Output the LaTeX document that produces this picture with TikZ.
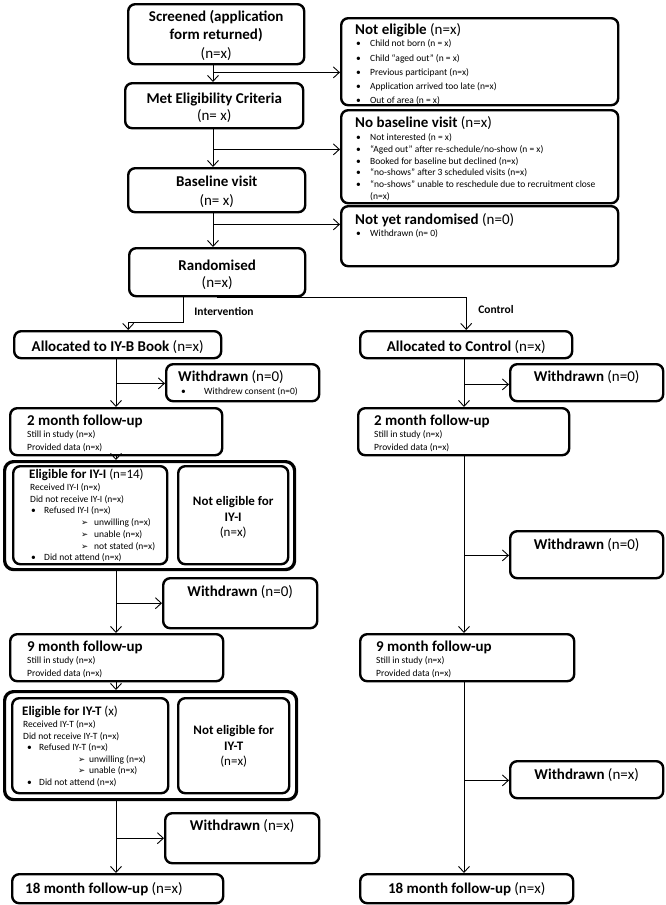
\documentclass[tikz,border=0pt]{standalone}
\usepackage{fontspec}
\setmainfont{Carlito}
\newfontfamily\dingfont{DejaVu Sans}
\usetikzlibrary{arrows.meta,calc}

\newcommand{\boxbody}[3]{\begin{minipage}[c][#2pt][t]{#1pt}#3\end{minipage}}
\newcommand{\ttlfont}{\fontsize{15}{18}\selectfont}
\newcommand{\midfont}{\fontsize{13}{16}\selectfont}
\newcommand{\dotitem}[2]{\hspace*{#1pt}\makebox[#2pt][l]{•}}
\newcommand{\arritem}[2]{\hspace*{#1pt}\makebox[#2pt][l]{\dingfont\fontsize{8.5}{9}\selectfont ➢}}

\begin{document}
\begin{tikzpicture}[x=1pt,y=-1pt,
  box/.style={draw,line width=2.4pt,rounded corners=7pt,inner sep=0pt,anchor=north west},
  outer/.style={draw,line width=3.2pt,rounded corners=9pt,inner sep=0pt,anchor=north west},
  arr/.style={line width=0.9pt,-{Straight Barb[length=6pt,width=11pt]}},
  lbl/.style={inner sep=0pt,font=\fontsize{11.5}{13}\selectfont\bfseries}]

\useasboundingbox (0,0) rectangle (666,905);

% screening
\node[box] (scr) at (127,3) {\boxbody{176}{60}{\centering\fontsize{15}{18.5}\selectfont
  \rule{0pt}{17pt}\textbf{Screened (application}\\ \textbf{form returned)}\\ (n=x)}};
\node[box] (met) at (124,82) {\boxbody{178}{45}{\centering\fontsize{15}{17}\selectfont
  \rule{0pt}{20pt}\textbf{Met Eligibility Criteria}\\ (n= x)}};
\node[box] (base) at (127,167) {\boxbody{177}{44}{\centering\fontsize{15}{19}\selectfont
  \rule{0pt}{18pt}\textbf{Baseline visit}\\ (n= x)}};
\node[box] (rand) at (128,247) {\boxbody{176}{48}{\centering\fontsize{15}{17}\selectfont
  \rule{0pt}{22pt}\textbf{Randomised}\\ (n=x)}};

\node[box] (notel) at (340,17) {\boxbody{277}{87}{\raggedright\fontsize{9.5}{14.3}\selectfont
  \hspace*{14pt}\rule{0pt}{16pt}{\ttlfont\textbf{Not eligible} (n=x)}\\[-1.8pt]
  \dotitem{15}{14}Child not born (n = x)\\
  \dotitem{15}{14}Child “aged out” (n = x)\\
  \dotitem{15}{14}Previous participant (n=x)\\
  \dotitem{15}{14}Application arrived too late (n=x)\\
  \dotitem{15}{14}Out of area (n = x)}};
\node[box] (nobase) at (340,109) {\boxbody{277}{93}{\raggedright\fontsize{9.5}{11.7}\selectfont
  \hspace*{14pt}\rule{0pt}{17pt}{\ttlfont\textbf{No baseline visit} (n=x)}\\[1.8pt]
  \dotitem{15}{14}Not interested (n = x)\\
  \dotitem{15}{14}“Aged out” after re-schedule/no-show (n = x)\\
  \dotitem{15}{14}Booked for baseline but declined (n=x)\\
  \dotitem{15}{14}“no-shows” after 3 scheduled visits (n=x)\\
  \dotitem{15}{14}“no-shows” unable to reschedule due to recruitment close\\
  \hspace*{29pt}(n=x)}};
\node[box] (notyet) at (340,205) {\boxbody{277}{60}{\raggedright\fontsize{9.5}{12.5}\selectfont
  \hspace*{14pt}\rule{0pt}{18pt}{\ttlfont\textbf{Not yet randomised} (n=0)}\\
  \dotitem{15}{14}Withdrawn (n= 0)}};

\coordinate (c1) at (213,0);
\draw[arr] (scr.south -| c1) -- (met.north -| c1);
\draw[arr] ($(scr.south -| c1)+(0,7)$) coordinate (k1) -- (k1 -| notel.west);
\draw[arr] (met.south -| c1) -- (base.north -| c1);
\draw[arr] ($(met.south -| c1)+(0,20)$) coordinate (k2) -- (k2 -| nobase.west);
\draw[arr] (base.south -| c1) -- (rand.north -| c1);
\draw[arr] ($(base.south -| c1)+(0,11)$) coordinate (k3) -- (k3 -| notyet.west);

% allocation
\node[box] (allocI) at (13,330) {\boxbody{207}{27}{\centering\ttlfont
  \rule{0pt}{20pt}\textbf{Allocated to IY-B Book} (n=x)}};
\node[box] (allocC) at (359,330) {\boxbody{212}{27}{\centering\ttlfont
  \rule{0pt}{20pt}\textbf{Allocated to Control} (n=x)}};
\draw[arr] ($(rand.south)+(-34,0)$) -- ++(0,25) -| ($(allocI.north)+(10.5,0)$);
\draw[arr] (rand.south) -| (allocC.north);
\node[lbl] (intv) at (224,311) {Intervention};
\node[lbl] (ctrl) at (496,310) {Control};

% intervention arm
\node[box] (wdI1) at (165,363) {\boxbody{153}{37}{\raggedright\fontsize{9.5}{13.5}\selectfont
  \hspace*{12pt}\rule{0pt}{17pt}{\ttlfont\textbf{Withdrawn} (n=0)}\\
  \dotitem{15}{23}Withdrew consent (n=0)}};
\node[box] (twoI) at (9,407) {\boxbody{212}{47}{\raggedright\fontsize{9.5}{13}\selectfont
  \hspace*{17pt}\rule{0pt}{17pt}{\ttlfont\textbf{2 month follow-up}}\\[-0.7pt]
  \hspace*{17pt}Still in study (n=x)\\
  \hspace*{17pt}Provided data (n=x)}};
\node[outer,minimum width=290pt,minimum height=108pt] (contI) at (3,460) {};
\node[box] (eligI) at (12,465) {\boxbody{154}{98}{\raggedright\fontsize{9.5}{11.7}\selectfont
  \hspace*{16pt}\rule{0pt}{12.5pt}{\midfont\textbf{Eligible for IY-I} (n=14)}\\[0.1pt]
  \hspace*{17pt}Received IY-I (n=x)\\
  \hspace*{17pt}Did not receive IY-I (n=x)\\
  \dotitem{18}{13}Refused IY-I (n=x)\\
  \arritem{68}{13}unwilling (n=x)\\
  \arritem{68}{13}unable (n=x)\\
  \arritem{68}{13}not stated (n=x)\\
  \dotitem{18}{13}Did not attend (n=x)}};
\node[box] (noteI) at (177,465) {\boxbody{110}{98}{\centering\midfont
  \rule{0pt}{39.5pt}\textbf{Not eligible for}\\ \textbf{IY-I}\\[-1pt] (n=x)}};
\node[box] (wdI2) at (162,577) {\boxbody{154}{50}{\centering\ttlfont
  \rule{0pt}{18pt}\textbf{Withdrawn} (n=0)}};
\node[box] (nineI) at (9,633) {\boxbody{213}{47}{\raggedright\fontsize{9.5}{13}\selectfont
  \hspace*{17pt}\rule{0pt}{17pt}{\ttlfont\textbf{9 month follow-up}}\\[-0.7pt]
  \hspace*{17pt}Still in study (n=x)\\
  \hspace*{17pt}Provided data (n=x)}};
\node[outer,minimum width=292pt,minimum height=108pt] (contT) at (3,690) {};
\node[box] (eligT) at (11,697) {\boxbody{156}{95}{\raggedright\fontsize{9.5}{11.6}\selectfont
  \hspace*{10pt}\rule{0pt}{17.5pt}{\midfont\textbf{Eligible for IY-T} (x)}\\[0.2pt]
  \hspace*{11pt}Received IY-T (n=x)\\
  \hspace*{11pt}Did not receive IY-T (n=x)\\
  \dotitem{15}{12}Refused IY-T (n=x)\\
  \arritem{66}{11}unwilling (n=x)\\
  \arritem{66}{11}unable (n=x)\\
  \dotitem{15}{12}Did not attend (n=x)}};
\node[box] (noteT) at (177,697) {\boxbody{111}{95}{\centering\midfont
  \rule{0pt}{36.5pt}\textbf{Not eligible for}\\ \textbf{IY-T}\\[-1pt] (n=x)}};
\node[box] (wdI3) at (164,812) {\boxbody{154}{50}{\centering\ttlfont
  \rule{0pt}{17pt}\textbf{Withdrawn} (n=x)}};
\node[box] (eightI) at (11,873) {\boxbody{211}{29}{\raggedright\ttlfont
  \hspace*{13pt}\rule{0pt}{19pt}\textbf{18 month follow-up} (n=x)}};

\coordinate (c2) at (116,0);
\draw[arr] (allocI.south -| c2) -- (twoI.north -| c2);
\draw[arr] ($(allocI.south -| c2)+(0,24)$) coordinate (k4) -- (k4 -| wdI1.west);
\draw[arr] (twoI.south -| c2) -- (contI.north -| c2);
\draw[arr] (contI.south -| c2) -- (nineI.north -| c2);
\draw[arr] ($(contI.south -| c2)+(0,32)$) coordinate (k5) -- (k5 -| wdI2.west);
\draw[arr] (nineI.south -| c2) -- (contT.north -| c2);
\draw[arr] (contT.south -| c2) -- (eightI.north -| c2);
\draw[arr] ($(contT.south -| c2)+(0,37)$) coordinate (k6) -- (k6 -| wdI3.west);

% control arm
\node[box] (wdC1) at (509,363) {\boxbody{153}{37}{\centering\ttlfont
  \rule{0pt}{17pt}\textbf{Withdrawn} (n=0)}};
\node[box] (twoC) at (357,407) {\boxbody{211}{47}{\raggedright\fontsize{9.5}{13}\selectfont
  \hspace*{16pt}\rule{0pt}{17pt}{\ttlfont\textbf{2 month follow-up}}\\[-0.7pt]
  \hspace*{16pt}Still in study (n=x)\\
  \hspace*{16pt}Provided data (n=x)}};
\node[box] (wdC2) at (509,530) {\boxbody{153}{47}{\centering\ttlfont
  \rule{0pt}{18pt}\textbf{Withdrawn} (n=0)}};
\node[box] (nineC) at (359,633) {\boxbody{214}{47}{\raggedright\fontsize{9.5}{13}\selectfont
  \hspace*{16pt}\rule{0pt}{17pt}{\ttlfont\textbf{9 month follow-up}}\\[-0.7pt]
  \hspace*{16pt}Still in study (n=x)\\
  \hspace*{16pt}Provided data (n=x)}};
\node[box] (wdC3) at (509,760) {\boxbody{153}{37}{\centering\ttlfont
  \rule{0pt}{18pt}\textbf{Withdrawn} (n=x)}};
\node[box] (eightC) at (359,873) {\boxbody{213}{29}{\centering\ttlfont
  \rule{0pt}{19pt}\textbf{18 month follow-up} (n=x)}};
%\draw[red] (eightC.north west) rectangle (eightC.south east);

\coordinate (c3) at (464,0);
\draw[arr] (allocC.south -| c3) -- (twoC.north -| c3);
\draw[arr] ($(allocC.south -| c3)+(0,25)$) coordinate (k7) -- (k7 -| wdC1.west);
\draw[arr] (twoC.south -| c3) -- (nineC.north -| c3);
\draw[arr] ($(twoC.south -| c3)+(0,99)$) coordinate (k8) -- (k8 -| wdC2.west);
\draw[arr] (nineC.south -| c3) -- (eightC.north -| c3);
\draw[arr] ($(nineC.south -| c3)+(0,98)$) coordinate (k9) -- (k9 -| wdC3.west);

\end{tikzpicture}
\end{document}
